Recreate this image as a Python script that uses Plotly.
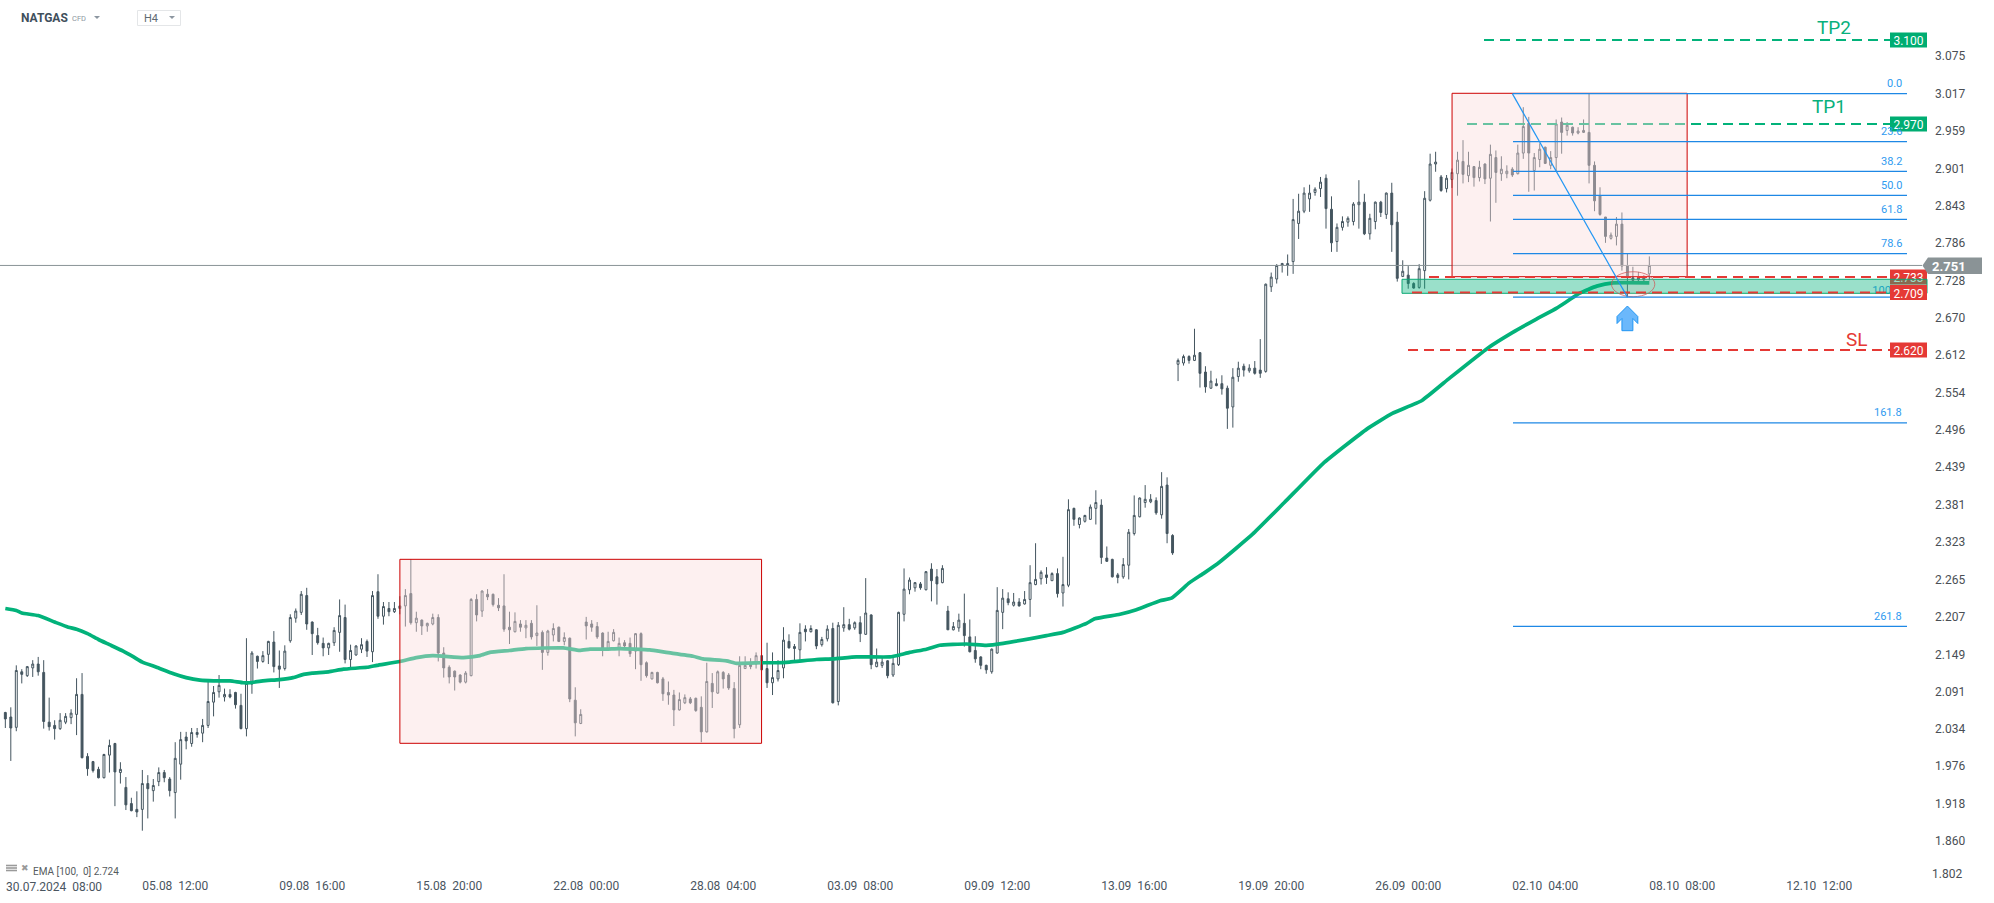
import plotly.graph_objects as go

direction = ("DDUDUUDDDD" "UUUUDDDDUU" "DUDDDUDUUD" "DUUDUDUUUU" "UDDDUUDUUD"
             "DUUUUDDDDU" "UUDUUUDUDU" "DUDUDUDUUD" "DDDDUUDUDD" "DDDUDUDUDU"
             "UDUDDUDDDD" "UUUDDUDDUD" "DDDUUDDDUD" "UDDDUUDUDD" "UUUDDUDUDU"
             "UDUUDUDUDU" "UDUUUUUDUD" "DUDUUDDDDD" "UUUDUDUUUU" "DUDUUDUUUU"
             "DDDDUUUUUU" "DUDDUUDUDD" "UDDDUUDUDD" "UUUUUUUUUU" "UDDUUUUUDU"
             "UDUDDUDDUU" "UUDUUUDUDU" "DUDUUDUUDU" "UDUUDUDUUD" "DDDUUDDDUU" "U")

body_top = [
2.059,2.052,2.124,2.122,2.130,2.134,2.134,2.121,2.044,2.039,
2.047,2.053,2.058,2.087,2.087,1.991,1.983,1.971,1.994,2.008,
2.011,1.971,1.943,1.918,1.909,1.949,1.949,1.946,1.966,1.966,
1.956,1.988,2.017,2.021,2.028,2.028,2.039,2.076,2.090,2.101,
2.087,2.087,2.090,2.070,2.104,2.151,2.146,2.147,2.169,2.168,
2.131,2.154,2.206,2.216,2.242,2.240,2.199,2.178,2.166,2.166,
2.186,2.209,2.206,2.155,2.162,2.164,2.169,2.240,2.246,2.223,
2.220,2.220,2.224,2.240,2.243,2.205,2.202,2.197,2.206,2.206,
2.151,2.129,2.123,2.117,2.120,2.234,2.234,2.247,2.242,2.242,
2.225,2.224,2.191,2.200,2.196,2.194,2.197,2.182,2.183,2.185,
2.189,2.191,2.175,2.174,2.078,2.056,2.199,2.196,2.192,2.182,
2.169,2.183,2.166,2.167,2.166,2.181,2.181,2.136,2.121,2.121,
2.111,2.090,2.086,2.079,2.082,2.080,2.081,2.067,2.107,2.104,
2.122,2.121,2.117,2.096,2.132,2.132,2.134,2.147,2.147,2.127,
2.113,2.124,2.171,2.169,2.161,2.183,2.188,2.189,2.187,2.172,
2.188,2.189,2.194,2.195,2.195,2.198,2.198,2.213,2.210,2.137,
2.137,2.139,2.135,2.214,2.250,2.264,2.260,2.258,2.277,2.281,
2.269,2.282,2.216,2.192,2.202,2.197,2.176,2.155,2.145,2.132,
2.157,2.217,2.236,2.235,2.230,2.230,2.234,2.260,2.265,2.276,
2.272,2.274,2.274,2.257,2.373,2.375,2.360,2.364,2.377,2.384,
2.380,2.298,2.296,2.272,2.288,2.338,2.364,2.391,2.389,2.389,
2.387,2.409,2.411,2.333,2.604,2.610,2.610,2.612,2.616,2.586,
2.572,2.568,2.568,2.561,2.578,2.592,2.595,2.592,2.592,2.589,
2.722,2.733,2.751,2.754,2.754,2.822,2.835,2.863,2.863,2.869,
2.880,2.886,2.838,2.810,2.819,2.824,2.846,2.849,2.849,2.824,
2.849,2.849,2.863,2.863,2.818,2.742,2.736,2.723,2.746,2.855,
2.908,2.911,2.888,2.886,2.895,2.914,2.912,2.906,2.904,2.903,
2.908,2.923,2.918,2.900,2.897,2.900,2.925,2.966,2.971,2.918,
2.931,2.934,2.918,2.970,2.973,2.968,2.965,2.959,2.960,2.957,
2.906,2.859,2.826,2.798,2.815,2.815,2.750,2.732,2.732,2.732,
2.751]

body_bottom = [
2.049,2.035,2.036,2.118,2.116,2.128,2.122,2.045,2.037,2.034,
2.034,2.044,2.051,2.056,1.989,1.972,1.969,1.958,1.958,1.993,
1.967,1.966,1.916,1.907,1.905,1.909,1.941,1.938,1.952,1.958,
1.938,1.935,1.979,2.015,2.011,2.025,2.027,2.039,2.075,2.091,
2.083,2.083,2.071,2.034,2.034,2.103,2.138,2.138,2.149,2.130,
2.126,2.127,2.170,2.205,2.214,2.196,2.181,2.167,2.159,2.159,
2.167,2.183,2.141,2.141,2.148,2.157,2.154,2.153,2.208,2.208,
2.215,2.215,2.220,2.224,2.198,2.198,2.193,2.193,2.196,2.151,
2.128,2.114,2.114,2.106,2.106,2.116,2.210,2.216,2.238,2.226,
2.221,2.188,2.187,2.184,2.191,2.190,2.176,2.178,2.152,2.152,
2.179,2.169,2.169,2.080,2.043,2.042,2.193,2.191,2.176,2.157,
2.157,2.170,2.157,2.162,2.150,2.154,2.133,2.116,2.111,2.105,
2.088,2.086,2.063,2.063,2.074,2.074,2.062,2.029,2.029,2.091,
2.089,2.111,2.097,2.034,2.040,2.127,2.130,2.134,2.125,2.105,
2.105,2.111,2.128,2.159,2.158,2.156,2.184,2.184,2.162,2.164,
2.173,2.074,2.076,2.190,2.188,2.190,2.181,2.180,2.133,2.130,
2.132,2.116,2.117,2.133,2.211,2.249,2.252,2.252,2.249,2.263,
2.258,2.260,2.187,2.187,2.190,2.178,2.153,2.142,2.132,2.125,
2.122,2.151,2.214,2.229,2.225,2.224,2.227,2.234,2.257,2.266,
2.268,2.263,2.243,2.244,2.256,2.358,2.350,2.355,2.358,2.375,
2.299,2.293,2.269,2.268,2.269,2.287,2.336,2.362,2.384,2.385,
2.368,2.365,2.336,2.306,2.598,2.600,2.604,2.604,2.584,2.563,
2.561,2.565,2.560,2.530,2.532,2.579,2.589,2.588,2.584,2.584,
2.587,2.718,2.730,2.751,2.751,2.757,2.816,2.835,2.854,2.864,
2.870,2.839,2.786,2.788,2.810,2.818,2.819,2.845,2.800,2.800,
2.819,2.833,2.830,2.814,2.731,2.734,2.723,2.716,2.717,2.743,
2.852,2.908,2.867,2.870,2.884,2.893,2.892,2.890,2.887,2.887,
2.885,2.886,2.895,2.893,2.893,2.891,2.893,2.925,2.925,2.898,
2.915,2.909,2.906,2.918,2.957,2.960,2.956,2.956,2.957,2.906,
2.851,2.830,2.796,2.793,2.796,2.750,2.733,2.728,2.729,2.729,
2.738]

wick_high = [
2.060,2.067,2.132,2.126,2.131,2.140,2.145,2.140,2.082,2.047,
2.058,2.058,2.064,2.112,2.120,1.996,1.984,1.975,1.995,2.017,
2.012,1.982,1.959,1.927,1.937,1.970,1.962,1.956,1.974,1.970,
1.959,2.013,2.029,2.029,2.035,2.035,2.049,2.108,2.100,2.117,
2.096,2.095,2.091,2.088,2.174,2.154,2.147,2.154,2.170,2.185,
2.155,2.163,2.211,2.220,2.247,2.252,2.200,2.190,2.175,2.167,
2.191,2.234,2.226,2.164,2.163,2.174,2.172,2.247,2.273,2.230,
2.230,2.230,2.239,2.250,2.296,2.215,2.203,2.198,2.212,2.211,
2.160,2.132,2.124,2.118,2.123,2.236,2.242,2.248,2.250,2.243,
2.236,2.273,2.215,2.214,2.202,2.202,2.202,2.225,2.186,2.187,
2.197,2.192,2.183,2.175,2.098,2.064,2.207,2.202,2.199,2.183,
2.184,2.188,2.175,2.171,2.175,2.182,2.183,2.138,2.122,2.122,
2.114,2.107,2.094,2.090,2.087,2.083,2.082,2.084,2.136,2.120,
2.124,2.123,2.120,2.106,2.146,2.146,2.143,2.152,2.148,2.167,
2.152,2.140,2.191,2.180,2.165,2.197,2.194,2.194,2.188,2.176,
2.194,2.198,2.199,2.222,2.204,2.200,2.208,2.267,2.211,2.158,
2.145,2.140,2.144,2.215,2.282,2.268,2.261,2.261,2.278,2.290,
2.281,2.287,2.224,2.199,2.212,2.243,2.203,2.177,2.146,2.133,
2.158,2.253,2.250,2.245,2.244,2.236,2.247,2.287,2.321,2.279,
2.284,2.276,2.282,2.300,2.389,2.376,2.361,2.365,2.381,2.403,
2.389,2.316,2.297,2.275,2.298,2.343,2.395,2.392,2.411,2.397,
2.392,2.431,2.423,2.335,2.607,2.613,2.612,2.653,2.617,2.595,
2.588,2.576,2.581,2.565,2.592,2.602,2.599,2.598,2.603,2.637,
2.723,2.740,2.753,2.755,2.768,2.854,2.862,2.872,2.876,2.872,
2.888,2.892,2.858,2.816,2.827,2.827,2.849,2.883,2.862,2.831,
2.850,2.851,2.864,2.879,2.834,2.759,2.750,2.725,2.753,2.866,
2.924,2.927,2.891,2.891,2.901,2.927,2.945,2.927,2.905,2.913,
2.909,2.938,2.929,2.920,2.906,2.903,2.938,2.996,2.981,2.925,
2.940,2.935,2.928,2.977,2.980,2.973,2.966,2.965,2.977,3.017,
2.912,2.872,2.826,2.802,2.826,2.833,2.769,2.749,2.741,2.736,
2.765]

wick_low = [
2.035,1.984,2.030,2.104,2.114,2.114,2.116,2.034,2.031,2.017,
2.032,2.041,2.041,2.024,1.988,1.961,1.966,1.957,1.957,1.966,
1.914,1.949,1.908,1.906,1.897,1.876,1.895,1.921,1.945,1.951,
1.929,1.895,1.955,2.002,2.006,2.020,2.013,2.035,2.053,2.082,
2.076,2.081,2.065,2.033,2.022,2.088,2.127,2.136,2.134,2.121,
2.097,2.124,2.167,2.198,2.210,2.187,2.148,2.164,2.146,2.148,
2.162,2.153,2.135,2.129,2.147,2.151,2.145,2.137,2.204,2.195,
2.208,2.213,2.211,2.192,2.195,2.184,2.179,2.184,2.194,2.138,
2.113,2.104,2.093,2.104,2.104,2.115,2.200,2.207,2.233,2.223,
2.216,2.184,2.165,2.183,2.184,2.174,2.172,2.162,2.125,2.147,
2.169,2.168,2.163,2.075,2.022,2.041,2.172,2.184,2.173,2.146,
2.155,2.169,2.146,2.159,2.145,2.126,2.108,2.113,2.110,2.104,
2.077,2.071,2.038,2.062,2.072,2.072,2.060,2.013,2.028,2.066,
2.088,2.096,2.094,2.019,2.035,2.127,2.126,2.127,2.125,2.097,
2.086,2.107,2.112,2.158,2.140,2.139,2.169,2.183,2.157,2.161,
2.169,2.073,2.070,2.184,2.186,2.187,2.168,2.179,2.126,2.129,
2.128,2.112,2.114,2.131,2.200,2.242,2.246,2.249,2.248,2.231,
2.226,2.259,2.187,2.186,2.184,2.161,2.152,2.136,2.126,2.119,
2.119,2.150,2.188,2.225,2.223,2.223,2.226,2.207,2.256,2.257,
2.258,2.263,2.237,2.223,2.253,2.348,2.344,2.353,2.357,2.350,
2.289,2.292,2.268,2.259,2.266,2.265,2.333,2.361,2.376,2.383,
2.365,2.359,2.321,2.303,2.572,2.596,2.599,2.603,2.562,2.554,
2.560,2.564,2.551,2.498,2.500,2.571,2.579,2.585,2.582,2.577,
2.585,2.710,2.723,2.740,2.735,2.738,2.792,2.832,2.834,2.859,
2.857,2.808,2.772,2.772,2.805,2.811,2.813,2.808,2.798,2.791,
2.807,2.826,2.823,2.772,2.726,2.733,2.715,2.715,2.715,2.715,
2.850,2.896,2.865,2.864,2.871,2.859,2.878,2.880,2.873,2.881,
2.877,2.819,2.848,2.882,2.886,2.888,2.892,2.916,2.865,2.867,
2.903,2.908,2.900,2.896,2.924,2.952,2.952,2.954,2.956,2.878,
2.835,2.828,2.786,2.791,2.782,2.743,2.702,2.726,2.726,2.726,
2.728]

ema_bar = [0,2,3,6,9,11.5,13,15,17,19,21.5,23.4,25,27.6,30.7,33,35.5,38,41,43.4,44.6,47,50,52.5,54.4,56,59,61.7,66,67.8,72,
           75,78,83.6,86.6,88.4,92,95,101.8,104.8,106.7,109.7,112.1,117.6,120.6,125.5,127.3,131.6,133.4,138,140.7,143.1,148,
           151.1,155.3,161.4,163.2,165,168.1,170.5,175.4,179,182.1,190,193,197.3,198.8,203.4,206.4,210.7,212.8,216.1,218.6,221.6,
           227.6,233.4,240.4,248.5,253.1,258.5,263.6,270.5,275,279.4,283.1,287.3,290.4,293.4,300]
ema_value = [2.220,2.217,2.213,2.209,2.199,2.191,2.188,2.181,2.172,2.164,2.154,2.145,2.137,2.129,2.119,2.113,2.109,2.108,2.108,2.105,2.105,2.108,2.110,2.113,2.118,2.120,2.122,2.126,2.129,2.132,2.138,
             2.144,2.147,2.144,2.147,2.152,2.155,2.158,2.159,2.155,2.157,2.157,2.158,2.156,2.152,2.146,2.142,2.139,2.135,2.136,2.136,2.137,2.141,
             2.142,2.145,2.145,2.148,2.152,2.157,2.163,2.165,2.163,2.166,2.178,2.183,2.197,2.204,2.211,2.218,2.232,2.236,2.260,2.274,2.292,
             2.335,2.384,2.444,2.498,2.522,2.542,2.577,2.623,2.647,2.668,2.685,2.708,2.719,2.724,2.724]

y_ticks = [3.075,3.017,2.959,2.901,2.843,2.786,2.728,2.670,2.612,2.554,2.496,2.439,2.381,2.323,2.265,2.207,2.149,2.091,2.034,1.976,1.918,1.860]
x_tick_bars = [31,56,81,106,131,156,181,206,231,256,281,306,331]
x_tick_labels = ["05.08  12:00","09.08  16:00","15.08  20:00","22.08  00:00","28.08  04:00","03.09  08:00",
                 "09.09  12:00","13.09  16:00","19.09  20:00","26.09  00:00","02.10  04:00","08.10  08:00","12.10  12:00"]
x_tick_labels = [t.replace(" ", "\u00a0") for t in x_tick_labels]

fib_levels = ["0.0","23.6","38.2","50.0","61.8","78.6","161.8","261.8"]
fib_prices = [3.017,2.9427,2.8967,2.8595,2.8223,2.7694,2.5073,2.1923]
fib_hundred = 2.702

WIDTH, HEIGHT = 1994, 903
PLOT_W, PLOT_H = 1930, 877
PX_PER_PRICE = 646
PX_PER_BAR = 5.48
BAR0_PX = 5.33

DARK = "#44555f"
GREEN = "#02b27a"
RED = "#e53935"
BLUE = "#2196f3"
FIBTXT = "#2f9bf0"
GREY = "#8a9396"

def bar_at(px):
    return (px - BAR0_PX) / PX_PER_BAR
def price_at(py):
    return 3.1 - (py - 40) / PX_PER_PRICE
def xp(px):
    return px / PLOT_W
def yp(py):
    return 1 - py / PLOT_H

bars = list(range(len(body_top)))
opens = [b if d == "U" else t for t, b, d in zip(body_top, body_bottom, direction)]
closes = [t if d == "U" else b for t, b, d in zip(body_top, body_bottom, direction)]

fig = go.Figure()
fig.add_trace(go.Candlestick(
    x=bars, open=opens, high=wick_high, low=wick_low, close=closes,
    increasing=dict(line=dict(color=DARK, width=1), fillcolor="#ffffff"),
    decreasing=dict(line=dict(color=DARK, width=1), fillcolor=DARK),
    whiskerwidth=0, showlegend=False, hoverinfo="skip"))
fig.add_trace(go.Scatter(x=ema_bar, y=ema_value, mode="lines",
                         line=dict(color=GREEN, width=3.7, shape="spline", smoothing=0.4),
                         showlegend=False, hoverinfo="skip"))
# entry arrow
arrow_x = [296.0,297.9,297.9,297.0,297.0,295.0,295.0,294.1,294.1,296.0]
arrow_y = [2.6882,2.672,2.6611,2.6689,2.650,2.650,2.6689,2.6611,2.672,2.6882]
fig.add_trace(go.Scatter(x=arrow_x, y=arrow_y, mode="lines", fill="toself", fillcolor="#6bb8fb",
                         line=dict(color=BLUE, width=1), showlegend=False, hoverinfo="skip"))

shapes = []
def hline(y, px0, px1, color, dash=None, width=1):
    shapes.append(dict(type="line", xref="x", yref="y", x0=bar_at(px0), x1=bar_at(px1), y0=y, y1=y,
                       line=dict(color=color, width=width, dash=dash or "solid"), layer="above"))
def tag(value, color):
    half = 7.5 / PX_PER_PRICE
    shapes.append(dict(type="rect", xref="x", yref="y", x0=bar_at(1890), x1=bar_at(1927),
                       y0=value - half, y1=value + half, fillcolor=color, line=dict(width=0), layer="above",
                       label=dict(text=f"{value:.3f}", font=dict(color="#ffffff", size=12, family="Roboto"),
                                  textposition="middle center", padding=0)))

DASH = "10px,6px"
hline(3.100, 1484, 1890, GREEN, DASH, 2)
hline(2.970, 1467, 1890, GREEN, DASH, 2)
hline(2.751, 0, 1922, GREY, None, 1)
hline(2.620, 1408, 1890, RED, DASH, 2)
tag(2.733, RED)
shapes.append(dict(type="rect", xref="x", yref="y", x0=bar_at(1850), x1=bar_at(1903),
                   y0=price_at(282), y1=price_at(296), fillcolor="rgba(0,0,0,0)", line=dict(width=0), layer="above",
                   label=dict(text="100.0", font=dict(color=FIBTXT, size=11, family="Roboto"),
                              textposition="middle right", padding=0)))
# highlighted boxes
for bx0, bx1, py0, py1 in [(72.0,138.0,2.2961,2.0113),(264.0,306.9,3.0175,2.7336)]:
    shapes.append(dict(type="rect", xref="x", yref="y", x0=bx0, x1=bx1, y0=py0, y1=py1,
                       fillcolor="rgba(250,219,219,0.41)", line=dict(color="#cc0000", width=1), layer="above"))
# entry zone
shapes.append(dict(type="rect", xref="x", yref="y", x0=bar_at(1402), x1=bar_at(1927), y0=2.7296, y1=2.7079,
                   fillcolor="rgba(2,178,122,0.40)", line=dict(color="#0aa874", width=1), layer="above"))
shapes.append(dict(type="circle", xref="x", yref="y", x0=293.1, x1=301.0, y0=2.7026, y1=2.7413,
                   fillcolor="rgba(255,170,170,0.12)", line=dict(color="rgba(205,90,90,0.75)", width=1), layer="above"))
hline(2.733, 1429, 1890, RED, DASH, 2)
hline(2.709, 1412, 1890, RED, DASH, 2)
for lv in fib_prices + [fib_hundred]:
    hline(lv, 1513, 1907, "#1e88e5", None, 1.2)
shapes.append(dict(type="line", xref="x", yref="y", x0=275, x1=296, y0=3.017, y1=2.702,
                   line=dict(color=BLUE, width=1.2), layer="above"))
tag(2.709, RED)
tag(2.620, RED)
tag(2.970, "#00ad72")
tag(3.100, "#00ad72")

def pshape(path, fill, line=None):
    shapes.append(dict(type="path", xref="paper", yref="paper", path=path, fillcolor=fill,
                       line=dict(width=0 if line is None else 1, color=line or fill), layer="above"))
def pts(*p):
    return "M " + " L ".join(f"{xp(a):.5f},{yp(b):.5f}" for a, b in p) + " Z"

# current price tag
pshape(pts((1922.5,265.5),(1928,257.5),(1982,257.5),(1982,274),(1928,274)), GREY)
# header bits
pshape(pts((94,16),(100,16),(97,19)), "#8c96a0")
pshape(pts((169,16),(175,16),(172,19)), "#8c96a0")
shapes.append(dict(type="rect", xref="paper", yref="paper", x0=xp(137.5), x1=xp(180.5), y0=yp(10.5), y1=yp(25.5),
                   fillcolor="rgba(0,0,0,0)", line=dict(color="#e4e6e8", width=1), layer="above"))
# legend icon
for py in (865.5, 868, 870.5):
    shapes.append(dict(type="line", xref="paper", yref="paper", x0=xp(6), x1=xp(17), y0=yp(py), y1=yp(py),
                       line=dict(color="#9a9a9a", width=1.6), layer="above"))

ann = []
def text(px, py, s, size, color, anchor="center", bold=False, family="Roboto"):
    ann.append(dict(xref="paper", yref="paper", x=xp(px), y=yp(py), text=f"<b>{s}</b>" if bold else s,
                    showarrow=False, xanchor=anchor, yanchor="middle",
                    font=dict(size=size, color=color, family=family)))

for name, lv in zip(fib_levels, fib_prices):
    ann.append(dict(xref="x", yref="y", x=bar_at(1904), y=lv, text=name, showarrow=False,
                    xanchor="right", yanchor="middle", yshift=10,
                    font=dict(size=11, color=FIBTXT, family="Roboto")))
text(1833.7, 28, "TP2", 19, "#08b07c")
text(1829, 106, "TP1", 19, "#08b07c")
text(1857, 339, "SL", 19, RED)
text(1948.5, 266, "2.751", 13, "#ffffff", bold=True)
text(1964, 873.7, "1.802", 12, "#4a4f55", anchor="right")
text(4, 887, "30.07.2024\u00a0\u00a008:00", 12, "#4a555f", anchor="left")
text(19, 18, "NATGAS", 12, "#3f4f5c", anchor="left", bold=True)
text(70, 18.5, "CFD", 7.5, "#8c96a0", anchor="left")
text(142, 18.5, "H4", 11, "#606a72", anchor="left")
text(19, 868, "\u2716", 9, "#9a9a9a", anchor="left", family="DejaVu Sans")
text(31, 871, "EMA [100,\u00a0\u00a00] 2.724", 10, "#555b60", anchor="left")

fig.update_layout(
    width=WIDTH, height=HEIGHT, paper_bgcolor="#ffffff", plot_bgcolor="#ffffff",
    margin=dict(l=0, r=WIDTH - PLOT_W, t=0, b=HEIGHT - PLOT_H, autoexpand=False),
    showlegend=False, boxgap=0.5, shapes=shapes, annotations=ann,
    font=dict(family="Roboto", size=12, color="#4a4f55"),
    xaxis=dict(range=[bar_at(0), bar_at(PLOT_W)], tickmode="array", tickvals=x_tick_bars, ticktext=x_tick_labels,
               showgrid=False, zeroline=False, showline=False, ticks="", rangeslider=dict(visible=False),
               tickfont=dict(size=12, color="#4a555f", family="Roboto")),
    yaxis=dict(range=[price_at(PLOT_H), price_at(0)], side="right", tickmode="array", tickvals=y_ticks,
               tickformat=".3f", showgrid=False, zeroline=False, showline=False, ticks="", ticklabelstandoff=4,
               tickfont=dict(size=12, color="#4a4f55", family="Roboto")),
)
fig.write_html("out.html", config=dict(displayModeBar=False),
               post_script="document.body.style.margin='0';document.documentElement.style.overflow='hidden';")
